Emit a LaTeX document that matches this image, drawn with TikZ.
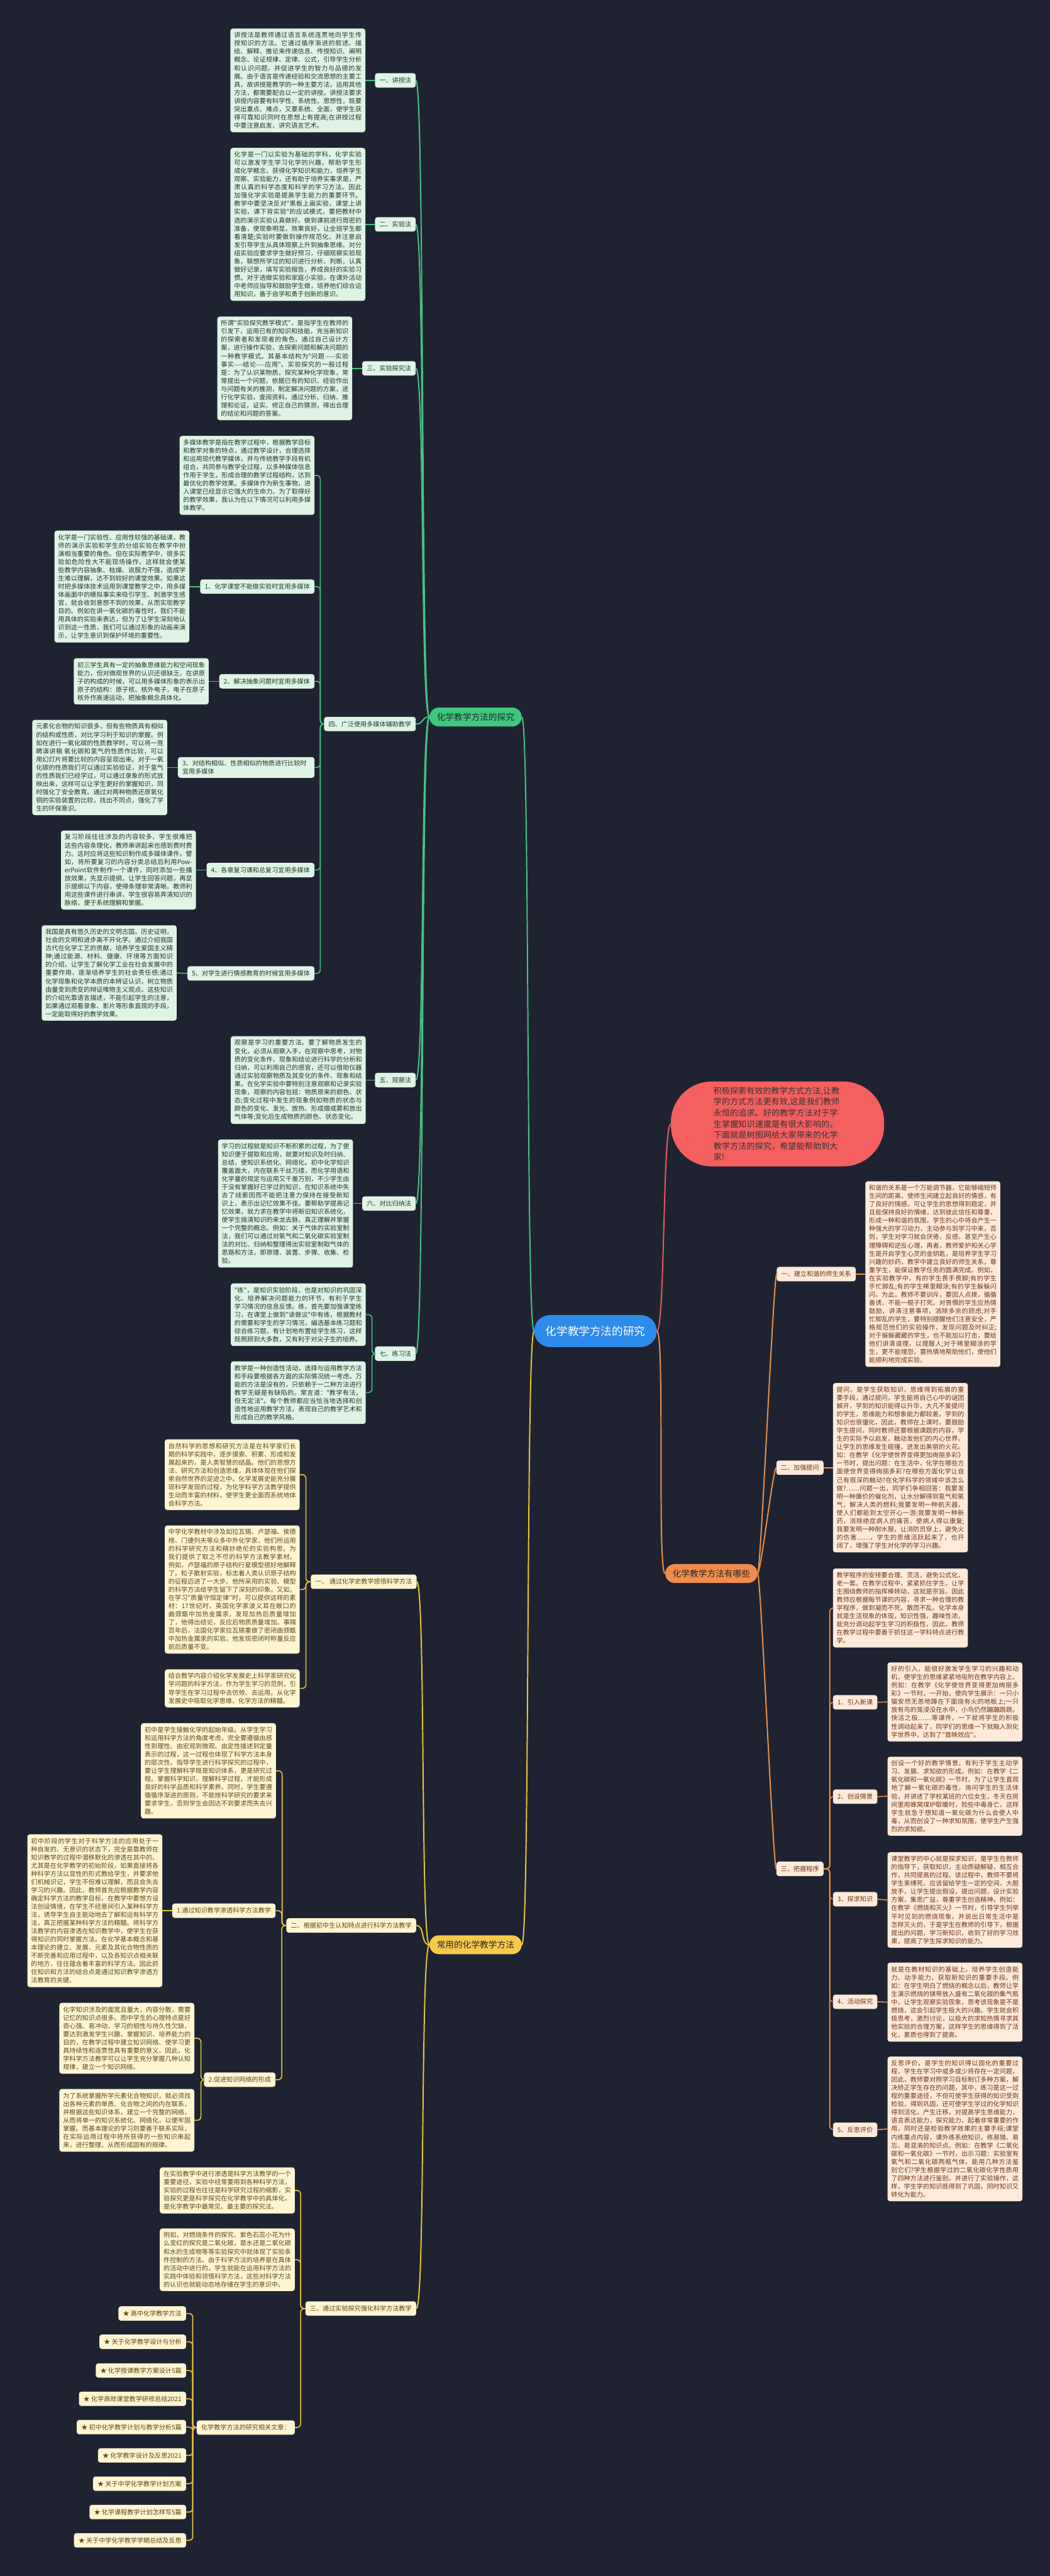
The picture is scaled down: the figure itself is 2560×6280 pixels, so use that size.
\documentclass[tikz,border=0pt]{standalone}
\usepackage{fontspec}
\newfontfamily\cjk{Noto Sans CJK SC}
\XeTeXlinebreaklocale "zh"
\XeTeXlinebreakskip=0pt plus 1pt
\usepackage{tikz}

\definecolor{bgcol}{HTML}{1F2331}
\definecolor{rootcol}{HTML}{2D8CEB}
\definecolor{introcol}{HTML}{F45F5F}
\definecolor{introline}{HTML}{E8595A}
\definecolor{gmaincol}{HTML}{3EC77F}
\definecolor{gline}{HTML}{45C285}
\definecolor{gfill}{HTML}{DDF4E6}
\definecolor{gtext}{HTML}{27352D}
\definecolor{omaincol}{HTML}{F28C4C}
\definecolor{oline}{HTML}{E8904A}
\definecolor{ofill}{HTML}{FDEADB}
\definecolor{otext}{HTML}{6E3614}
\definecolor{ymaincol}{HTML}{F8C94B}
\definecolor{yline}{HTML}{E9C43A}
\definecolor{yfill}{HTML}{FEF5D3}
\definecolor{ytext}{HTML}{5A4912}

\newcommand{\parafont}{\cjk\fontsize{15.5pt}{20pt}\selectfont}
\newcommand{\branchfont}{\cjk\fontsize{21pt}{26pt}\selectfont}
\newcommand{\rootfont}{\cjk\fontsize{27pt}{32pt}\selectfont}
\newcommand{\introfont}{\cjk\fontsize{20pt}{27pt}\selectfont}

\begin{document}
\begin{tikzpicture}[
  x=1pt, y=-1pt,
  para/.style={rectangle, rounded corners=6pt, inner xsep=9pt, inner ysep=9pt, text width=311pt, align=justify, font=\parafont},
  gpara/.style={para, fill=gfill, text=gtext},
  opara/.style={para, fill=ofill, text=otext},
  ypara/.style={para, fill=yfill, text=ytext},
  lbl/.style={rectangle, rounded corners=6pt, inner xsep=11pt, minimum height=35pt, font=\parafont},
  glbl/.style={lbl, fill=gfill, text=gtext},
  olbl/.style={lbl, fill=ofill, text=otext},
  ylbl/.style={lbl, fill=yfill, text=ytext},
  branch/.style={rectangle, rounded corners=23pt, minimum height=46pt, inner xsep=18pt, font=\branchfont, text=black!85},
  root/.style={rectangle, rounded corners=39pt, minimum height=78pt, inner xsep=28pt, fill=rootcol, text=white, font=\rootfont},
  intro/.style={rectangle, rounded corners=100pt, minimum width=520pt, minimum height=207pt, text width=312pt, align=left, fill=introcol, text=black!80, font=\introfont},
  curve/.style={line width=3pt},
  elbow/.style={line width=2.5pt, rounded corners=9pt}
]
% Background and page size
\fill[bgcol] (0,0) rectangle (2560,6280);
\useasboundingbox (0,0) rectangle (2560,6280);

% Draw root and intro
\node[root] (root) at (1452,3245) {化学教学方法的研究};
\node[intro] (intro) at (1896,2740) {积极探索有效的教学方式方法,让教学的方式方法更有效,这是我们教师永恒的追求。好的教学方法对于学生掌握知识速度是有很大影响的。下面就是树图网给大家带来的化学教学方法的探究，希望能帮助到大家!};

% Draw branch nodes
\node[branch, fill=gmaincol, anchor=west] (gm) at (1047,1748) {化学教学方法的探究};
\node[branch, fill=omaincol, anchor=west] (om) at (1622,3836) {化学教学方法有哪些};
\node[branch, fill=ymaincol, anchor=west] (ym) at (1047,4741) {常用的化学教学方法};

% Green branch: labels
\node[glbl, anchor=east] (g1) at (1014,196) {一、讲授法};
\node[glbl, anchor=east] (g2) at (1014,547) {二、实验法};
\node[glbl, anchor=east] (g3) at (1014,898) {三、实验探究法};
\node[glbl, anchor=east] (g4) at (1014,1765) {四、广泛使用多媒体辅助教学};
\node[glbl, anchor=east] (g5) at (1014,2633) {五、观察法};
\node[glbl, anchor=east] (g6) at (1014,2934) {六、对比归纳法};
\node[glbl, anchor=east] (g7) at (1014,3300) {七、练习法};

% Green branch: texts
\node[gpara, anchor=east] (g1p) at (891,196) {讲授法是教师通过语言系统连贯地向学生传授知识的方法。它通过循序渐进的叙述、描绘、解释、推论来传递信息、传授知识、阐明概念、论证规律、定律、公式，引导学生分析和认识问题，并促进学生的智力与品德的发展。由于语言是传递经验和交流思想的主要工具，故讲授是教学的一种主要方法，运用其他方法，都需要配合以一定的讲授。讲授法要求讲授内容要有科学性、系统性、思想性，既要突出重点、难点，又要系统、全面，使学生获得可靠知识同时在思想上有提高;在讲授过程中要注意启发，讲究语言艺术。};
\node[gpara, anchor=east] (g2p) at (891,547) {化学是一门以实验为基础的学科，化学实验可以激发学生学习化学的兴趣，帮助学生形成化学概念，获得化学知识和能力，培养学生观察、实验能力，还有助于培养实事求是，严肃认真的科学态度和科学的学习方法。因此加强化学实验是提高学生能力的重要环节。教学中要坚决反对"黑板上画实验，课堂上讲实验，课下背实验"的应试模式，要把教材中选的演示实验认真做好。做到课前进行周密的准备，使现象明显，效果良好，让全班学生都看清楚;实验时要做到操作规范化，并注意启发引导学生从具体观察上升到抽象思维。对分组实验应要求学生做好预习，仔细观察实验现象，联想所学过的知识进行分析、判断，认真做好记录，填写实验报告，养成良好的实验习惯。对于选做实验和家庭小实验，在课外活动中老师应指导和鼓励学生做，培养他们综合运用知识，善于自学和勇于创新的意识。};
\node[gpara, anchor=east] (g3p) at (859,898) {所谓"实验探究教学模式"，是指学生在教师的引发下，运用已有的知识和技能，充当新知识的探索者和发现者的角色，通过自己设计方案，进行操作实验，去探索问题和解决问题的一种教学模式。其基本结构为"问题 -\kern0pt-\kern0pt-\kern0pt-实验事实-\kern0pt-\kern0pt-\kern0pt-结论-\kern0pt-\kern0pt-\kern0pt-应用"。实验探究的一般过程是：为了认识某物质，探究某种化学现象，常常提出一个问题，依据已有的知识、经验作出与问题有关的推测，制定解决问题的方案，进行化学实验，查阅资料，通过分析、归纳、推理和论证，证实、修正自己的猜测，得出合理的结论和问题的答案。};
\node[gpara, anchor=east] (g4p) at (767,1159) {多媒体教学是指在教学过程中，根据教学目标和教学对象的特点，通过教学设计，合理选择和运用现代教学媒体，并与传统教学手段有机组合，共同参与教学全过程，以多种媒体信息作用于学生，形成合理的教学过程结构，达到最优化的教学效果。多媒体作为新生事物，进入课堂已经显示它强大的生命力。为了取得好的教学效果，我认为在以下情况可以利用多媒体教学。};
\node[glbl, anchor=east] (g41) at (767,1430) {1、化学课堂不能做实验时宜用多媒体};
\node[gpara, anchor=east] (g41p) at (462,1430) {化学是一门实验性、应用性较强的基础课，教师的演示实验和学生的分组实验在教学中扮演相当重要的角色。但在实际教学中，很多实验如危险性大不能现场操作，这样就会使某些教学内容抽象、枯燥、说服力不强，造成学生难以理解，达不到较好的课堂效果。如果这时把多媒体技术运用到课堂教学之中，用多媒体画面中的模拟事实来吸引学生、刺激学生感官，就会收到意想不到的效果，从而实现教学目的。例如在讲一氧化碳的毒性时，我们不能用具体的实验来表达，但为了让学生深刻地认识到这一性质，我们可以通过形象的动画来演示，让学生意识到保护环境的重要性。};
\node[glbl, anchor=east] (g42) at (767,1661) {2、解决抽象问题时宜用多媒体};
\node[gpara, anchor=east] (g42p) at (509,1661) {初三学生具有一定的抽象思维能力和空间现象能力，但对微观世界的认识还很缺乏，在讲原子的构成的时候，可以用多媒体形象的表示出原子的结构：原子核、核外电子，电子在原子核外作高速运动，把抽象概念具体化。};
\node[glbl, anchor=east, text width=311pt, align=left, inner ysep=8pt] (g43) at (767,1871) {3、对结构相似、性质相似的物质进行比较时\\宜用多媒体};
\node[gpara, anchor=east] (g43p) at (408,1871) {元素化合物的知识很多，但有些物质具有相似的结构或性质，对比学习利于知识的掌握。例如在进行一氧化碳的性质教学时，可以将一竞聘演讲稿 氧化碳和氢气的性质作比较，可以用幻灯片将要比较的内容呈现出来。对于一氧化碳的性质我们可以通过实验验证，对于氢气的性质我们已经学过，可以通过录象的形式放映出来，这样可以让学生更好的掌握知识，同时强化了安全教育。通过对两种物质还原氧化铜的实验装置的比较，找出不同点，强化了学生的环保意识。};
\node[glbl, anchor=east] (g44) at (767,2121) {4、各章复习课和总复习宜用多媒体};
\node[gpara, anchor=east] (g44p) at (478,2121) {复习阶段往往涉及的内容较多，学生很难把这些内容条理化，教师串讲起来也感到费时费力。这时应将这些知识制作成多媒体课件。譬如，将所要复习的内容分类总结后利用PowerPoint软件制作一个课件，同时添加一些播放效果，先显示提纲，让学生回答问题，再显示提纲以下内容，使得条理非常清晰。教师利用这些课件进行串讲，学生很容易弄清知识的脉络，便于系统理解和掌握。};
\node[glbl, anchor=east] (g45) at (767,2373) {5、对学生进行情感教育的时候宜用多媒体};
\node[gpara, anchor=east] (g45p) at (431,2372) {我国是具有悠久历史的文明古国。历史证明，社会的文明和进步离不开化学。通过介绍我国古代在化学工艺的贡献，培养学生爱国主义精神;通过能源、材料、健康、环境等方面知识的介绍，让学生了解化学工业在社会发展中的重要作用，逐渐培养学生的社会责任感;通过化学现象和化学本质的本辨证认识，树立物质由量变到质变的辩证唯物主义观点。这些知识的介绍光靠语言描述，不能引起学生的注意，如果通过观看录象、影片等形象直观的手段，一定能取得好的教学效果。};
\node[gpara, anchor=east] (g5p) at (892,2633) {观察是学习的重要方法。要了解物质发生的变化，必须从观察入手，在观察中思考，对物质的变化条件、现象和结论进行科学的分析和归纳，可以利用自己的感官，还可以借助仪器通过实验观察物质及其变化的条件、现象和结果。在化学实验中要特别注意观察和记录实验现象，观察的内容包括：物质原来的颜色、状态;变化过程中发生的现象例如物质的状态与颜色的变化、发光、放热、形成烟或雾和放出气体等;变化后生成物质的颜色、状态变化。};
\node[gpara, anchor=east] (g6p) at (861,2934) {学习的过程就是知识不断积累的过程，为了使知识便于提取和应用，就要对知识及时归纳、总结，使知识系统化、网络化。初中化学知识覆盖面大，内在联系千丝万缕，而化学用语和化学量的规定与运用又千差万别，不少学生由于没有掌握好已学过的知识，在知识系统中失去了线索因而不能把注意力保持在接受新知识上，表示出记忆效果不佳。要帮助学提高记忆效果，就力求在教学中将新旧知识系统化，使学生搞清知识的来龙去脉，真正理解并掌握一个完整的概念。例如：关于气体的实验室制法，我们可以通过对氧气和二氧化碳实验室制法的对比、归纳和整理得出实验室制取气体的思路和方法，即原理、装置、步骤、收集、检验。};
\node[gpara, anchor=east] (g7a) at (892,3205) {"练"，是知识实验阶段，也是对知识的巩固深化、培养解决问题能力的环节，有利于学生学习情况的信息反馈。练，首先要加强课堂练习，在课堂上做到"读做议"中有练，根据教材的需要和学生的学习情况，编选基本练习题和综合练习题，有计划地布置给学生练习，这样既照顾到大多数，又有利于对尖子生的培养。};
\node[gpara, anchor=east] (g7b) at (892,3395) {教学是一种创造性活动，选择与运用教学方法和手段要根据各方面的实际情况统一考虑。万能的方法是没有的，只依赖于一二种方法进行教学无疑是有缺陷的。常言道："教学有法，但无定法"。每个教师都应当恰当地选择和创造性地运用教学方法，表现自己的教学艺术和形成自己的教学风格。};

% Orange branch
\node[olbl, anchor=west] (o1) at (1894,3106) {一、建立和谐的师生关系};
\node[opara, anchor=west] (o1p) at (2110,3106) {和谐的关系是一个万能调节器，它能够缩短师生间的距离，使师生间建立起良好的情感，有了良好的情感，可让学生的思想得到稳定，并且能保持良好的情绪，达到彼此信任和尊重，形成一种和谐的氛围，学生的心中将会产生一种强大的学习动力，主动参与到学习中来，否则，学生对学习就会厌倦，反感，甚至产生心理障碍和逆反心理，再者，教师爱护和关心学生是开启学生心灵的金钥匙，是培养学生学习兴趣的妙药，教学中建立良好的师生关系，尊重学生，能保证教学任务的圆满完成。例如，在实验教学中，有的学生畏手畏脚;有的学生手忙脚乱;有的学生稀里糊涂;有的学生躲躲闪闪。为此，教师不要训斥，要因人点拨，循循善诱，不能一棍子打死。对畏惧的学生应热情鼓励，讲清注意事项，消除多余的顾虑;对手忙脚乱的学生，要特别提醒他们注意安全，严格规范他们的实验操作，发现问题及时纠正;对于躲躲藏藏的学生，也不能加以打击，要给他们讲清道理，以理服人;对于稀里糊涂的学生，更不能埋怨，要热情地帮助他们，使他们能顺利地完成实验。};
\node[olbl, anchor=west] (o2) at (1893,3578) {二、加强提问};
\node[opara, anchor=west] (o2p) at (2031,3578) {提问，是学生获取知识，思维得到拓展的重要手段，通过提问，学生能将自己心中的谜团解开，学到的知识能得以升华，大凡不爱提问的学生，思维能力和想象能力都较差，学到的知识也很僵化，因此，教师在上课时，要鼓励学生提问，同时教师还要根据课题的内容，学生的实际予以启发，触动发他们的内心世界，让学生的思维发生碰撞，迸发出美丽的火花。如：在教学《化学使世界变得更加绚丽多彩》一节时，提出问题：在生活中，化学在哪些方面使世界变得绚丽多彩?在哪些方面化学让自己有很深的触动?在化学科学的领域中该怎么做?……问题一出，同学们争相回答：我要发明一种廉价的催化剂，让水分解得到氢气和氧气，解决人类的燃料;我要发明一种航天器，使人们都能到太空开心一游;我要发明一种新药，消除绝症病人的痛苦，使病人得以康复;我要发明一种耐水服，让消防员穿上，避免火的伤害……，学生的思维活跃起来了，也开阔了，增强了学生对化学的学习兴趣。};
\node[olbl, anchor=west] (o3) at (1893,4556) {三、把握程序};
\node[opara, anchor=west] (o3p) at (2031,3920) {教学程序的安排要合理、灵活，避免公式化，老一套。在教学过程中，紧紧抓住学生，让学生围绕教师的指挥棒转动，这就是宗旨。因此教师应根据每节课的内容，寻求一种合理的教学程序，做到凝而不死，散而不乱。化学本身就是生活现象的体现，知识性强，趣味性浓，能充分调动起学生学习的积极性，因此，教师在教学过程中要善于抓住这一学科特点进行教学。};
\node[olbl, anchor=west] (o31) at (2031,4150) {1、引入新课};
\node[opara, anchor=west] (o31p) at (2164,4149) {好的引入，能很好激发学生学习的兴趣和动机，使学生的思维紧紧地吸附在教学内容上。例如：在教学《化学使世界变得更加绚丽多彩》一节时，一开始，使向学生展示：一只小猫安然无恙地蹲在下面烧有火的地板上;一只放有鸟的笼浸没在水中，小鸟仍然蹦蹦跳跳，快活之极……等课件，一下就将学生的积极性调动起来了，同学们的思维一下就融入到化学世界中，达到了"首映效应"。};
\node[olbl, anchor=west] (o32) at (2031,4380) {2、创设情景};
\node[opara, anchor=west] (o32p) at (2164,4379) {创设一个好的教学情景，有利于学生主动学习、发展、求知欲的形成。例如：在教学《二氧化碳和一氧化碳》一节时，为了让学生直观地了解一氧化碳的毒性，询问学生的生活体验，并讲述了学校某班的六位女生，冬天在房间里用蜂窝煤炉取暖时，险些中毒身亡，这样学生就急于想知道一氧化碳为什么会使人中毒，从而创设了一种求知氛围，使学生产生强烈的求知欲。};
\node[olbl, anchor=west] (o33) at (2031,4630) {3、探求知识};
\node[opara, anchor=west] (o33p) at (2164,4632) {课堂教学的中心就是探求知识，是学生在教师的指导下，获取知识，主动质疑解疑，相互合作，共同提高的过程。该过程中，教师不要将学生束缚死，应该留给学生一定的空间，大胆放手，让学生提出假设，提出问题，设计实验方案，集思广益，尊重学生创造精神。例如：在教学《燃烧和灭火》一节时，引导学生列举平时见到的燃烧现象，并说出日常生活中是怎样灭火的，于是学生在教师的引导下，根据提出的问题，学习新知识，收到了好的学习效果，提高了学生探求知识的能力。};
\node[olbl, anchor=west] (o34) at (2031,4880) {4、活动探究};
\node[opara, anchor=west] (o34p) at (2164,4881) {就是在教材知识的基础上，培养学生创造能力、动手能力，获取新知识的重要手段。例如：在学生明白了燃烧的概念以后，教师让学生演示燃烧的镁带放入盛有二氧化碳的集气瓶中，让学生观察实验现象，思考该现象是不是燃烧，这会引起学生极大的兴趣。学生就会积极思考，激烈讨论，以极大的求知热情寻求其他实验的合理方案，这样学生的思维得到了活化，素质也得到了提高。};
\node[olbl, anchor=west] (o35) at (2031,5192) {5、反思评价};
\node[opara, anchor=west] (o35p) at (2164,5190) {反思评价，是学生的知识得以固化的重要过程，学生在学习中或多或少将存在一定问题，因此，教师要对照学习目标制订多种方案，解决矫正学生存在的问题，其中，练习是这一过程的重要途径，不但可使学生获得的知识受到检验，得到巩固，还可使学生学过的化学知识得到活化，产生迁移。对提高学生思维能力，语言表达能力，探究能力，起着非常重要的作用，同时还是检验教学效果的主要手段;课堂内练重点内容，课外练系统知识，练易错、易忘、易混淆的知识点。例如：在教学《二氧化碳和一氧化碳》一节时，出示习题：实验室有氧气和二氧化碳两瓶气体，能用几种方法鉴别它们?学生根据学过的二氧化碳化学性质用了四种方法进行鉴别，并进行了实验操作，这样，学生学的知识既得到了巩固，同时知识又转化为能力。};

% Yellow branch
\node[ylbl, anchor=east] (y1) at (1016,3856) {一、 通过化学史教学感悟科学方法};
\node[ypara, anchor=east] (y1a) at (731,3595) {自然科学的思想和研究方法是在科学家们长期的科学实践中，逐步摸索、积累、形成和发展起来的，是人类智慧的结晶。他们的思想方法、研究方法和创造思维，具体体现在他们探索自然世界的足迹之中。化学发展史能充分展现科学发现的过程，为化学科学方法教学提供生动而丰富的材料，使学生更全面而系统地体会科学方法。};
\node[ypara, anchor=east] (y1b) at (731,3875) {中学化学教材中涉及如拉瓦锡、卢瑟福、侯德榜、门捷列夫等众多中外化学家，他们所运用的科学研究方法和精妙绝伦的实验构思，为我们提供了取之不尽的科学方法教学素材。例如，卢瑟福的原子结构行星模型很好地解释了。粒子散射实验，标志着人类认识原子结构的征程迈进了一大步。他所采用的实验、模型的科学方法给学生留下了深刻的印象。又如，在学习"质量守恒定律"时，可以提供这样的素材：17世纪时，英国化学家波义耳在敞口的曲颈甑中加热金属汞，发现加热后质量增加了，他得出结论，反应后物质质量增加。事隔百年后，法国化学家拉瓦锡重做了密闭曲颈甑中加热金属汞的实验，他发现密闭时称量反应前后质量不变。};
\node[ypara, anchor=east] (y1c) at (731,4116) {结合教学内容介绍化学发展史上科学家研究化学问题的科学方法，作为学生学习的范例，引导学生在学习过程中去仿效、去运用。从化学发展史中吸取化学思维、化学方法的精髓。};
\node[ylbl, anchor=east] (y2) at (1015,4694) {二、根据初中生认知特点进行科学方法教学};
\node[ypara, anchor=east] (y2p) at (673,4317) {初中是学生接触化学的起始年级。从学生学习和运用科学方法的角度考虑，完全要遵循由感性到理性、由宏观到微观、由定性描述到定量表示的过程，这一过程也体现了科学方法本身的层次性。指导学生进行科学探究的过程中，要让学生理解科学既是知识体系，更是研究过程。掌握科学知识，理解科学过程，才能形成良好的科学品质和科学素养。同时，学生要遵循循序渐进的原则，不能按科学研究的要求来要求学生，否则学生会因达不到要求而失去兴趣。};
\node[ylbl, anchor=east] (y21) at (672,4658) {1.通过知识教学渗透科学方法教学};
\node[ypara, anchor=east] (y21p) at (396,4658) {初中阶段的学生对于科学方法的应用处于一种自发的、无意识的状态下，完全是靠教师在知识教学的过程中潜移默化的渗透在其中的。尤其是在化学教学的初始阶段，如果直接将各种科学方法以显性的形式教给学生，并要求他们机械识记，学生不但难以理解，而且会失去学习的兴趣。因此，教师首先应根据教学内容确定科学方法的教学目标，在教学中要想方设法创设情境，在学生不经意间引入某种科学方法，诱导学生自主能动地去了解和运有科学方法，真正把握某种科学方法的精髓。将科学方法教学的内容渗透在知识教学中，使学生在获得知识的同时掌握方法。在化学基本概念和基本理论的建立、发展，元素及其化合物性质的不断完善和应用过程中，以及各知识点相关联的地方，往往蕴含着丰富的科学方法。因此抓住知识和方法的结合点是通过知识教学渗透方法教育的关键。};
\node[ylbl, anchor=east] (y22) at (672,5070) {2.促进知识网络的形成};
\node[ypara, anchor=east] (y22a) at (474,4969) {化学知识涉及的面宽且量大，内容分散，需要记忆的知识点很多。而中学生的心理特点是好奇心强、易冲动、学习的韧性与持久性欠缺，要达到激发学生兴趣、掌握知识、培养能力的目的，在教学过程中建立知识网络、使学习更具持续性和连贯性具有重要的意义。因此，化学科学方法教学可以让学生充分掌握几种认知规律，建立一个知识网络。};
\node[ypara, anchor=east] (y22b) at (474,5169) {为了系统掌握所学元素化合物知识，就必须找出各种元素的单质、化合物之间的内在联系，并根据这些知识体系，建立一个完整的网络，从而将单一的知识系统化、网络化，以便牢固掌握。而基本理论的学习则要善于联系实际，在实际运用过程中将所获得的一些知识串起来，进行整理，从而形成固有的规律。};
\node[ylbl, anchor=east] (y3) at (1015,5628) {三、通过实验探究强化科学方法教学};
\node[ypara, anchor=east] (y3a) at (719,5340) {在实验教学中进行渗透是科学方法教学的一个重要途径，实验中经常要用到各种科学方法，实验的过程也往往是科学研究过程的缩影，实验探究更是科学探究在化学教学中的具体化，是化学教学中最常见、最主要的探究法。};
\node[ypara, anchor=east] (y3b) at (719,5509) {例如，对燃烧条件的探究、紫色石蕊小花为什么变红的探究是二氧化碳，是水还是二氧化碳和水的生成物等等实验探究中就体现了实验条件控制的方法。由于科学方法的培养是在具体的活动中进行的，学生就能在运用科学方法的实践中体验和领悟科学方法，这些对科学方法的认识也就能动态地存储在学生的意识中。};
\node[ylbl, anchor=east] (rel) at (719,5918) {化学教学方法的研究相关文章：};

% Related article list
\node[ylbl, anchor=east] (s1) at (454,5640) {★ 高中化学教学方法};
\node[ylbl, anchor=east] (s2) at (454,5709) {★ 关于化学教学设计与分析};
\node[ylbl, anchor=east] (s3) at (454,5779) {★ 化学授课教学方案设计5篇};
\node[ylbl, anchor=east] (s4) at (454,5848) {★ 化学高效课堂教学研修总结2021};
\node[ylbl, anchor=east] (s5) at (454,5917) {★ 初中化学教学计划与教学分析5篇};
\node[ylbl, anchor=east] (s6) at (454,5986) {★ 化学教学设计及反思2021};
\node[ylbl, anchor=east] (s7) at (454,6055) {★ 关于中学化学教学计划方案};
\node[ylbl, anchor=east] (s8) at (454,6124) {★ 化学课程教学计划怎样写5篇};
\node[ylbl, anchor=east] (s9) at (454,6193) {★ 关于中学化学教学学期总结及反思};

% Root connectors
\draw[curve, gline] (root.west) .. controls +(-20,0) and +(20,0) .. (gm.east);
\draw[curve, yline] (root.west) .. controls +(-20,0) and +(20,0) .. (ym.east);
\draw[curve, introline] (root.east) .. controls +(20,0) and +(-20,0) .. (intro.west);
\draw[curve, oline] (root.east) .. controls +(20,0) and +(-20,0) .. (om.west);

% Green connectors
\foreach \n in {g1,g2,g3,g4,g5,g6,g7}
  \draw[curve, gline] (\n.east) .. controls +(22,0) and +(-22,0) .. (gm.west);
\draw[elbow, gline] (g1p.east) -- (g1.west);
\draw[elbow, gline] (g2p.east) -- (g2.west);
\draw[elbow, gline] (g3p.east) -- (g3.west);
\draw[elbow, gline] (g5p.east) -- (g5.west);
\draw[elbow, gline] (g6p.east) -- (g6.west);
\draw[elbow, gline] (g7a.east) -- ++(15,0) |- (g7.west);
\draw[elbow, gline] (g7b.east) -- ++(15,0) |- (g7.west);
\foreach \n in {g4p,g41,g42,g43,g44,g45}
  \draw[elbow, gline] (\n.east) -- ++(14,0) |- (g4.west);
\draw[elbow, gline] (g41p.east) -- (g41.west);
\draw[elbow, gline] (g42p.east) -- (g42.west);
\draw[elbow, gline] (g43p.east) -- (g43.west);
\draw[elbow, gline] (g44p.east) -- (g44.west);
\draw[elbow, gline] (g45p.east) -- (g45.west);

% Orange connectors
\foreach \n in {o1,o2,o3}
  \draw[curve, oline] (om.east) .. controls +(8,0) and +(-8,0) .. (\n.west);
\draw[elbow, oline] (o1.east) -- (o1p.west);
\draw[elbow, oline] (o2.east) -- (o2p.west);
\foreach \n in {o3p,o31,o32,o33,o34,o35}
  \draw[elbow, oline] (o3.east) -- ++(15,0) |- (\n.west);
\draw[elbow, oline] (o31.east) -- (o31p.west);
\draw[elbow, oline] (o32.east) -- (o32p.west);
\draw[elbow, oline] (o33.east) -- (o33p.west);
\draw[elbow, oline] (o34.east) -- (o34p.west);
\draw[elbow, oline] (o35.east) -- (o35p.west);

% Yellow connectors
\foreach \n in {y1,y2,y3}
  \draw[curve, yline] (\n.east) .. controls +(22,0) and +(-22,0) .. (ym.west);
\foreach \n in {y1a,y1b,y1c}
  \draw[elbow, yline] (\n.east) -- ++(15,0) |- (y1.west);
\foreach \n in {y2p,y21,y22}
  \draw[elbow, yline] (\n.east) -- ++(15,0) |- (y2.west);
\draw[elbow, yline] (y21p.east) -- (y21.west);
\draw[elbow, yline] (y22a.east) -- ++(16,0) |- (y22.west);
\draw[elbow, yline] (y22b.east) -- ++(16,0) |- (y22.west);
\foreach \n in {y3a,y3b,rel}
  \draw[elbow, yline] (\n.east) -- ++(14,0) |- (y3.west);
\foreach \n in {s1,s2,s3,s4,s5,s6,s7,s8,s9}
  \draw[elbow, yline] (\n.east) -- ++(16,0) |- (rel.west);

\end{tikzpicture}
\end{document}
